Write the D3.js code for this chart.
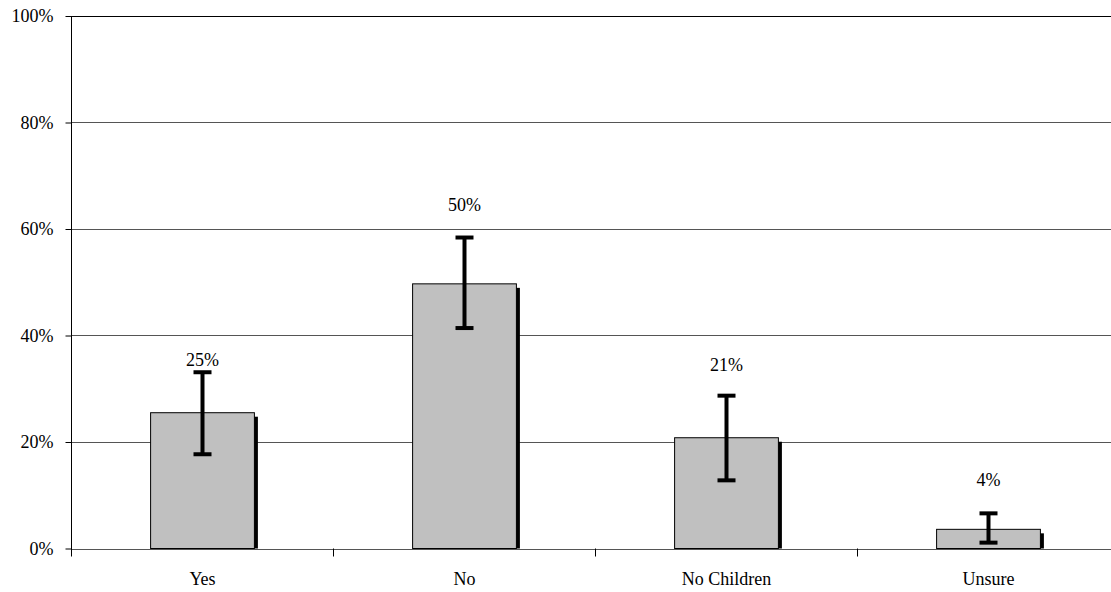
<!DOCTYPE html>
<html><head><meta charset="utf-8">
<script src="https://cdn.jsdelivr.net/npm/d3@7"></script>
<style>body{margin:0;background:#fff}svg{display:block}svg text{font-family:"Liberation Serif","Times New Roman",serif !important;font-size:18px !important;fill:#000}</style>
</head><body><svg id="c" width="1111" height="592"></svg>
<script>
const categories = ["Yes", "No", "No Children", "Unsure"];
const values = [25.5, 49.7, 20.8, 3.6];
const errLow = [17.7, 41.4, 12.8, 1.1];
const errHigh = [33.1, 58.4, 28.7, 6.6];
const labels = ["25%", "50%", "21%", "4%"];
const labelAt = [34.3, 63.3, 33.4, 11.7];
const yTicks = [0, 20, 40, 60, 80, 100];

const svg = d3.select("#c");
const L = 71.5, T = 16, B = 548.5, cw = 262;
const x = d3.scaleBand().domain(categories).range([L, L + cw * categories.length]).paddingInner(0.6).paddingOuter(0.3);
const y = d3.scaleLinear().domain([0, 100]).range([B, T]);

// gridlines
svg.append("g").selectAll("line").data(yTicks).join("line")
  .attr("x1", L).attr("x2", 1111)
  .attr("y1", d => Math.round(y(d)) + 0.5).attr("y2", d => Math.round(y(d)) + 0.5)
  .attr("stroke", d => d === 100 ? "#000" : "#555").attr("stroke-width", 1);

// y axis
const ya = svg.append("g").attr("transform", `translate(${L},0)`)
  .call(d3.axisLeft(y).tickValues(yTicks).tickFormat(d => d + "%").tickSize(6).tickPadding(12));
ya.attr("font-family", null).attr("font-size", null);
ya.select(".domain").remove();
ya.selectAll("line").attr("stroke", "#000");
svg.append("line").attr("x1", L).attr("x2", L).attr("y1", T).attr("y2", B + 8).attr("stroke", "#000");

// category ticks
const bounds = d3.range(1, categories.length + 1).map(i => L + cw * i);
svg.append("g").selectAll("line").data(bounds).join("line")
  .attr("x1", d => d).attr("x2", d => d).attr("y1", B).attr("y2", B + 8).attr("stroke", "#000");

// category labels
svg.append("g").selectAll("text").data(categories).join("text")
  .attr("x", d => x(d) + x.bandwidth() / 2).attr("y", 585)
  .attr("text-anchor", "middle").text(d => d);

// bar shadows
svg.append("g").selectAll("rect").data(values).join("rect")
  .attr("x", (d, i) => x(categories[i]) + x.bandwidth() - 1)
  .attr("y", d => y(d) + 4)
  .attr("width", 4)
  .attr("height", d => B - y(d) - 4)
  .attr("fill", "#000");

// bars
svg.append("g").selectAll("rect").data(values).join("rect")
  .attr("x", (d, i) => x(categories[i]) + 0.5)
  .attr("y", d => y(d))
  .attr("width", x.bandwidth() - 1)
  .attr("height", d => B - y(d))
  .attr("fill", "#c0c0c0").attr("stroke", "#000").attr("stroke-width", 1);

// error bars
const eg = svg.append("g").attr("stroke", "#000").attr("stroke-width", 4);
categories.forEach((c, i) => {
  const cx = x(c) + x.bandwidth() / 2;
  eg.append("line").attr("x1", cx).attr("x2", cx).attr("y1", y(errLow[i])).attr("y2", y(errHigh[i]));
  eg.append("line").attr("x1", cx - 9).attr("x2", cx + 9).attr("y1", y(errLow[i])).attr("y2", y(errLow[i]));
  eg.append("line").attr("x1", cx - 9).attr("x2", cx + 9).attr("y1", y(errHigh[i])).attr("y2", y(errHigh[i]));
});

// value labels
svg.append("g").selectAll("text").data(labels).join("text")
  .attr("x", (d, i) => x(categories[i]) + x.bandwidth() / 2)
  .attr("y", (d, i) => y(labelAt[i]))
  .attr("text-anchor", "middle").text(d => d);
</script></body></html>
